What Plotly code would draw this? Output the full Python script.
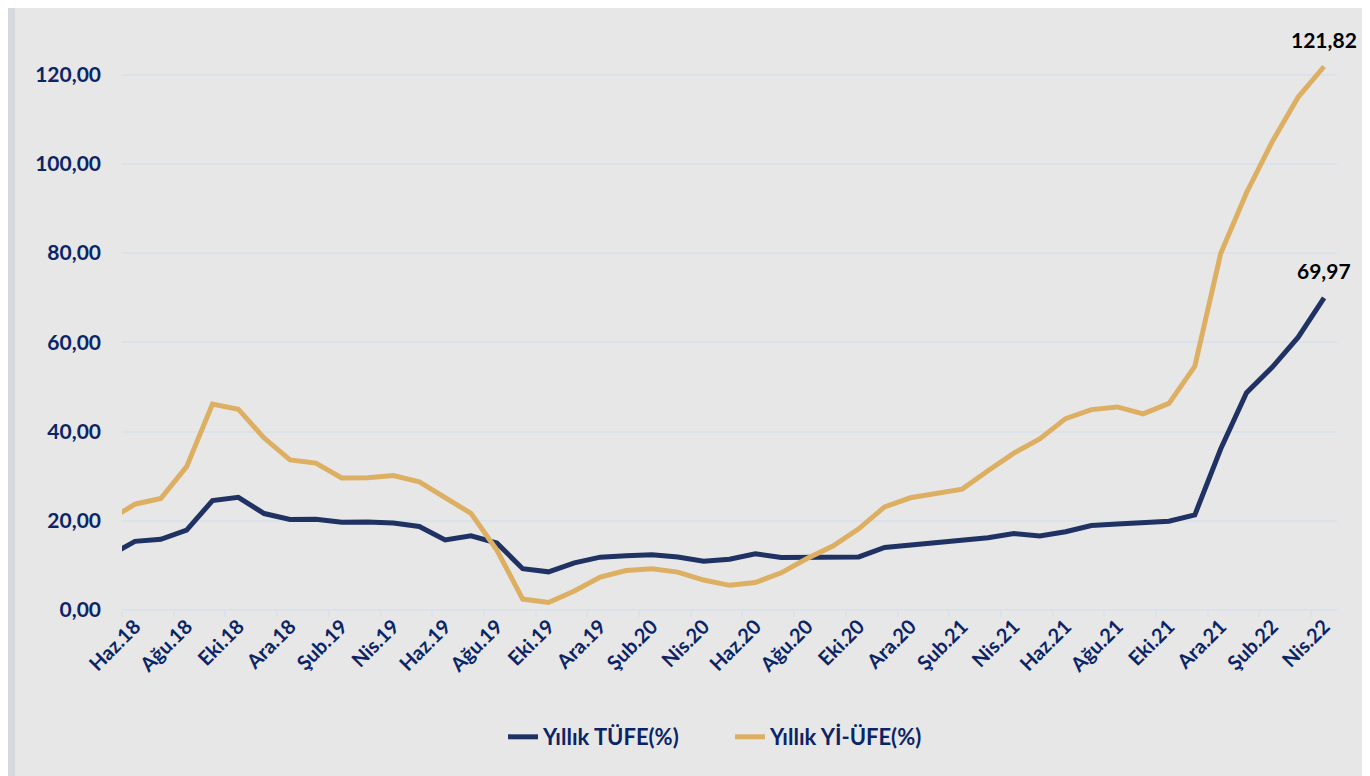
import plotly.graph_objects as go

# Aylık seri: May.18 - Nis.22 (May.18 grafiğin solunda kırpılıyor)
months = ['May.18', 'Haz.18', 'Tem.18', 'Ağu.18', 'Eyl.18', 'Eki.18', 'Kas.18', 'Ara.18',
          'Oca.19', 'Şub.19', 'Mar.19', 'Nis.19', 'May.19', 'Haz.19', 'Tem.19', 'Ağu.19',
          'Eyl.19', 'Eki.19', 'Kas.19', 'Ara.19', 'Oca.20', 'Şub.20', 'Mar.20', 'Nis.20',
          'May.20', 'Haz.20', 'Tem.20', 'Ağu.20', 'Eyl.20', 'Eki.20', 'Kas.20', 'Ara.20',
          'Oca.21', 'Şub.21', 'Mar.21', 'Nis.21', 'May.21', 'Haz.21', 'Tem.21', 'Ağu.21',
          'Eyl.21', 'Eki.21', 'Kas.21', 'Ara.21', 'Oca.22', 'Şub.22', 'Mar.22', 'Nis.22']

tufe = [12.15, 15.39, 15.85, 17.90, 24.52, 25.24, 21.62, 20.30,
        20.35, 19.67, 19.71, 19.50, 18.71, 15.72, 16.65, 15.01,
        9.26, 8.55, 10.56, 11.84, 12.15, 12.37, 11.86, 10.94,
        11.39, 12.62, 11.76, 11.77, 11.75, 11.89, 14.03, 14.60,
        14.97, 15.61, 16.19, 17.14, 16.59, 17.53, 18.95, 19.25,
        19.58, 19.89, 21.31, 36.08, 48.69, 54.44, 61.14, 69.97]

yiufe = [20.16, 23.71, 25.00, 32.13, 46.15, 45.01, 38.54, 33.64,
         32.93, 29.59, 29.64, 30.12, 28.71, 25.04, 21.66, 13.45,
         2.45, 1.70, 4.26, 7.36, 8.84, 9.26, 8.50, 6.71,
         5.53, 6.17, 8.33, 11.53, 14.33, 18.20, 23.11, 25.15,
         26.16, 27.09, 31.20, 35.17, 38.33, 42.89, 44.92, 45.52,
         43.96, 46.31, 54.62, 79.89, 93.53, 105.01, 114.97, 121.82]

y_ticks = [0, 20, 40, 60, 80, 100, 120]

NAVY = '#1F3263'
GOLD = '#DDAF62'
TEXT = '#0B2466'
GRID = '#DCE2EA'
FONT = 'Lato'

x = list(range(len(months)))
tick_idx = x[1::2]

fig = go.Figure()

fig.add_trace(go.Scatter(
    x=x, y=tufe, mode='lines', name='Yıllık TÜFE(%)',
    line=dict(color=NAVY, width=5)
))
fig.add_trace(go.Scatter(
    x=x, y=yiufe, mode='lines', name='Yıllık Yİ-ÜFE(%)',
    line=dict(color=GOLD, width=5)
))

# son değer etiketleri
for series in (yiufe, tufe):
    fig.add_annotation(
        x=x[-1], y=series[-1], text=f'{series[-1]:.2f}'.replace('.', ','),
        showarrow=False, yshift=27,
        font=dict(family=FONT, size=21, color='black', weight='bold')
    )

fig.update_layout(
    width=1362,
    height=768,
    paper_bgcolor='#E7E7E7',
    plot_bgcolor='#E7E7E7',
    margin=dict(t=22, b=166, l=114, r=33),
    font=dict(family=FONT, color=TEXT, size=20),
    showlegend=True,
    legend=dict(
        orientation='h', x=0.3136, xanchor='left', y=-0.219, yanchor='middle',
        font=dict(family=FONT, size=22, color=TEXT, weight='bold'),
        entrywidth=182, entrywidthmode='pixels',
        tracegroupgap=0
    ),
    xaxis=dict(
        range=[0.5, 47.5],
        tickmode='array',
        tickvals=tick_idx,
        ticktext=[months[i] for i in tick_idx],
        tickangle=-45,
        tickfont=dict(family=FONT, size=20, color=TEXT, weight='bold'),
        ticks='',
        showgrid=False,
        zeroline=False,
        showline=False,
        minor=dict(tick0=0.5, dtick=2, ticks='outside', ticklen=6, tickcolor=GRID, tickwidth=2, showgrid=False)
    ),
    yaxis=dict(
        range=[0, 130],
        tickmode='array',
        tickvals=y_ticks,
        ticktext=[f'{v:.2f}'.replace('.', ',') for v in y_ticks],
        tickfont=dict(family=FONT, size=21, color=TEXT, weight='bold'),
        showgrid=True,
        gridcolor=GRID,
        gridwidth=1.5,
        zeroline=True,
        zerolinecolor=GRID,
        zerolinewidth=2,
        ticklabelstandoff=20
    ),
    shapes=[dict(type='rect', xref='paper', yref='paper', x0=-0.094, x1=-0.088,
                 y0=-0.3, y1=1.04, fillcolor='#D5D9DE', line=dict(width=0), layer='below')]
)

fig.write_html("out.html")
